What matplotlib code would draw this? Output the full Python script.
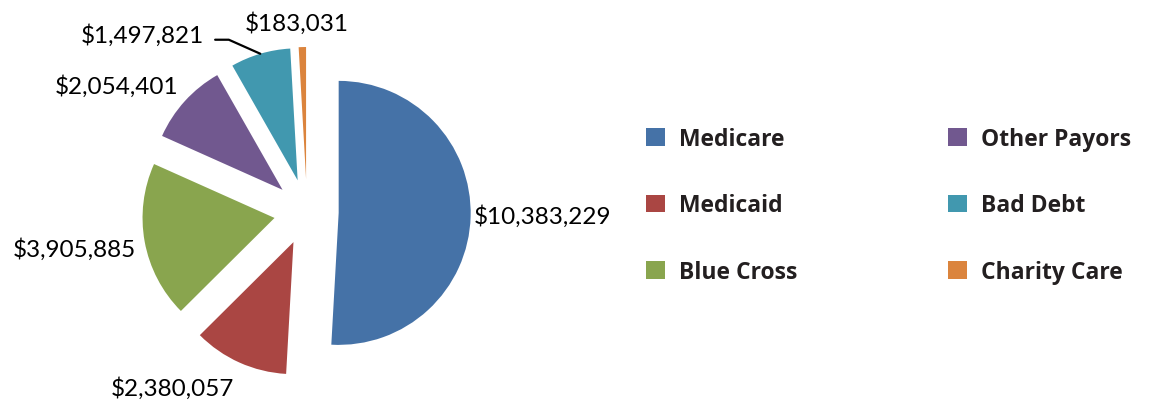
import matplotlib.pyplot as plt
import numpy as np

# payor mix
payors = ['Medicare', 'Medicaid', 'Blue Cross', 'Other Payors', 'Bad Debt', 'Charity Care']
amounts = [10383229, 2380057, 3905885, 2054401, 1497821, 183031]
colors = ['#4572A7', '#AA4643', '#89A54E', '#71588F', '#4198AF', '#DB843D']

# label positions (in pie radius units, relative to pie centre) and alignment
label_xy = [(1.265, -0.023), (-1.02, -1.326), (-1.295, -0.273),
            (-0.977, 0.962), (-0.78, 1.348), (-0.076, 1.439)]
label_ha = ['left', 'center', 'right', 'right', 'right', 'center']

W, H = 1150, 402
R = 132.0
cx, cy = 307, 213   # pie centre in pixels (from top-left)

f = plt.figure(figsize=(W / 100, H / 100), dpi=100)
ax = f.add_axes([0, 0, 1, 1])

wedges, _ = ax.pie(amounts, colors=colors, startangle=90, counterclock=False,
                   explode=[0.24, 0.25, 0.25, 0.25, 0.25, 0.25], radius=1,
                   wedgeprops=dict(linewidth=0))
ax.set_xlim(-cx / R, (W - cx) / R)
ax.set_ylim(-(H - cy) / R, cy / R)
ax.set_aspect('auto')
ax.axis('off')

for i, (w, amt) in enumerate(zip(wedges, amounts)):
    txt = '${:,}'.format(amt)
    if payors[i] == 'Bad Debt':
        # leader line from the wedge edge
        mid = np.deg2rad((w.theta1 + w.theta2) / 2)
        px = w.center[0] + w.r * np.cos(mid)
        py = w.center[1] + w.r * np.sin(mid)
        ax.annotate(txt, xy=(px, py), xytext=label_xy[i], ha=label_ha[i], va='center',
                    fontsize=17.5, family='Lato',
                    arrowprops=dict(arrowstyle='-', color='black', lw=1.6,
                                    connectionstyle='angle,angleA=0,angleB=-24',
                                    relpos=(1, 0.25), shrinkA=6, shrinkB=0))
    else:
        ax.text(label_xy[i][0], label_xy[i][1], txt, ha=label_ha[i], va='center',
                fontsize=17.5, family='Lato')

leg = ax.legend(wedges, payors, ncol=2, loc='upper left',
                bbox_to_anchor=(646 / W, 1 - 128 / H), bbox_transform=f.transFigure,
                frameon=False, borderpad=0, borderaxespad=0,
                handlelength=0.82, handleheight=0.82, handletextpad=0.6,
                labelspacing=1.85, columnspacing=6.6,
                prop=dict(family='Open Sans', weight='bold', size=16.5))
for t in leg.get_texts():
    t.set_color('#231F20')

f.savefig('out.png', dpi=100)
